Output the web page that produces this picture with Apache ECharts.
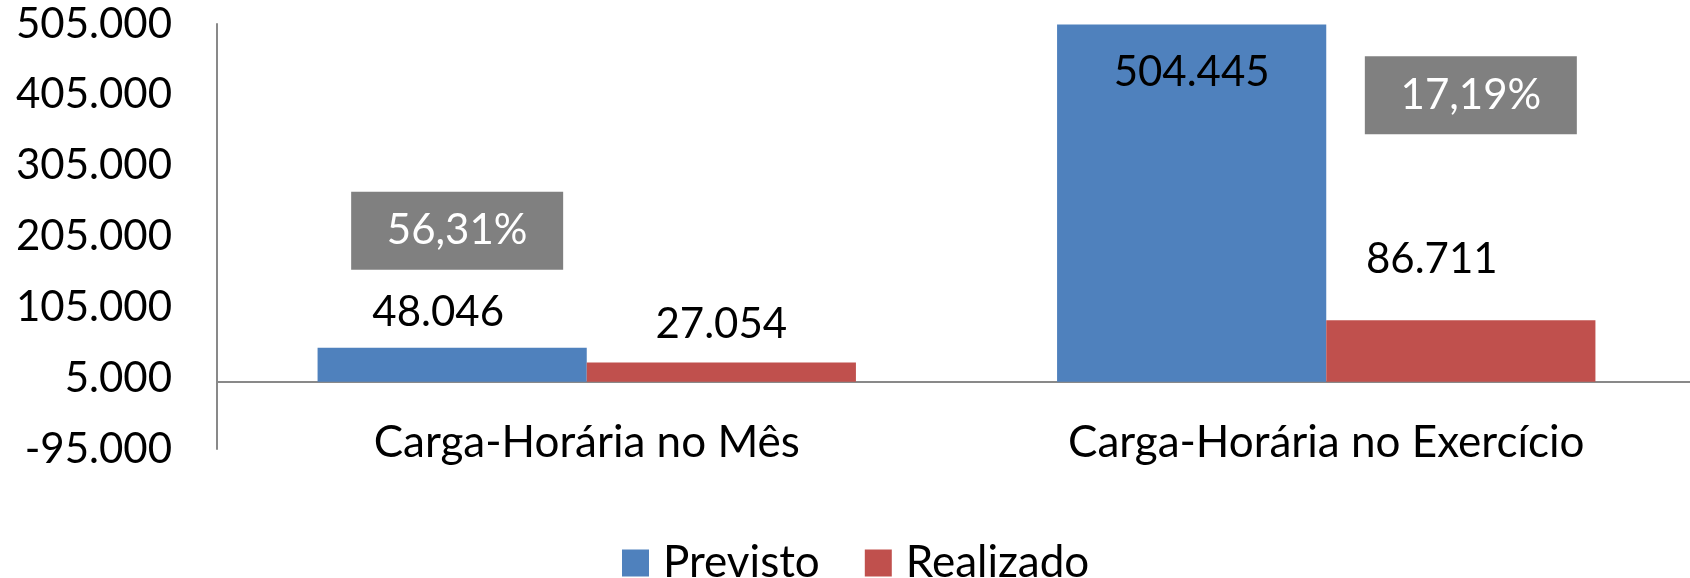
<!DOCTYPE html>
<html><head><meta charset="utf-8">
<script src="https://cdn.jsdelivr.net/npm/echarts@6/dist/echarts.min.js"></script>
<style>html,body{margin:0;padding:0;background:#fff}#c{width:1690px;height:578px}</style>
</head><body><div id="c"></div>
<script>
// ---- data ----
const categories = ['Carga-Horária no Mês', 'Carga-Horária no Exercício'];
const seriesNames = ['Previsto', 'Realizado'];
const previsto = [48046, 504445];
const realizado = [27054, 86711];
const yTicks = [-95000, 5000, 105000, 205000, 305000, 405000, 505000];

// ---- helpers / styles ----
const FONT = 'Lato';
const fmt = v => Math.round(v).toString().replace(/\B(?=(\d{3})+(?!\d))/g, '.');
const pct = (r, p) => (r / p * 100).toFixed(2).replace('.', ',') + '%';

const prevLabelStyle = [
  { position: 'top', distance: 14, offset: [-14, 0] },
  { position: 'insideTop', distance: 27, offset: [0, 0] }
];
const realLabelStyle = [
  { position: 'top', distance: 17, offset: [0, 0] },
  { position: 'top', distance: 40, offset: [-29, 0] }
];
// which series carries the ratio box for each category, and its pixel offset
const boxStyle = [
  { series: 0, offset: [5, -117] },
  { series: 1, offset: [10, -225] }
];

function boxesFor(sIdx) {
  const out = [];
  categories.forEach((c, i) => {
    if (boxStyle[i].series === sIdx) {
      const val = sIdx === 0 ? previsto[i] : realizado[i];
      out.push({
        name: pct(realizado[i], previsto[i]),
        coord: [i, val],
        symbolOffset: boxStyle[i].offset
      });
    }
  });
  return out;
}

const markPointBase = {
  symbol: 'rect',
  symbolSize: [212, 78],
  itemStyle: { color: '#808080' },
  label: {
    show: true, position: 'inside', color: '#fff', fontSize: 42,
    fontFamily: FONT, formatter: '{b}'
  },
  silent: true
};

const labelBase = { show: true, color: '#000', fontSize: 42, fontFamily: FONT, formatter: p => fmt(p.value) };

const chart = echarts.init(document.getElementById('c'), null, { renderer: 'canvas' });
chart.setOption({
  animation: false,
  backgroundColor: '#fff',
  color: ['#4F81BD', '#C0504D'],
  grid: { left: 217, right: -6, top: 24, bottom: 129, containLabel: false, outerBoundsMode: 'none' },
  legend: {
    data: seriesNames, left: 617, top: 536,
    icon: 'rect', itemWidth: 27, itemHeight: 27, itemGap: 45,
    textStyle: { fontSize: 44, fontFamily: FONT, color: '#000', padding: [0, 0, 0, 9] }
  },
  xAxis: {
    type: 'category', data: categories,
    axisLine: { lineStyle: { color: '#898989', width: 2 } },
    axisTick: { show: false },
    axisLabel: { color: '#000', fontSize: 44, fontFamily: FONT, margin: -28 }
  },
  yAxis: {
    type: 'value', min: yTicks[0], max: yTicks[yTicks.length - 1],
    splitLine: { show: false },
    axisLine: { show: true, lineStyle: { color: '#898989', width: 2 } },
    axisTick: { show: false },
    axisLabel: {
      color: '#000', fontSize: 42, fontFamily: FONT, margin: 45,
      customValues: yTicks, formatter: v => fmt(v)
    }
  },
  series: [
    {
      name: seriesNames[0], type: 'bar', barGap: '0%', barCategoryGap: '27.2%',
      data: previsto.map((v, i) => ({ value: v, label: prevLabelStyle[i] })),
      label: labelBase,
      markPoint: Object.assign({}, markPointBase, { data: boxesFor(0) })
    },
    {
      name: seriesNames[1], type: 'bar', barGap: '0%', barCategoryGap: '27.2%',
      data: realizado.map((v, i) => ({ value: v, label: realLabelStyle[i] })),
      label: labelBase,
      markPoint: Object.assign({}, markPointBase, { data: boxesFor(1) })
    }
  ]
});
</script></body></html>
